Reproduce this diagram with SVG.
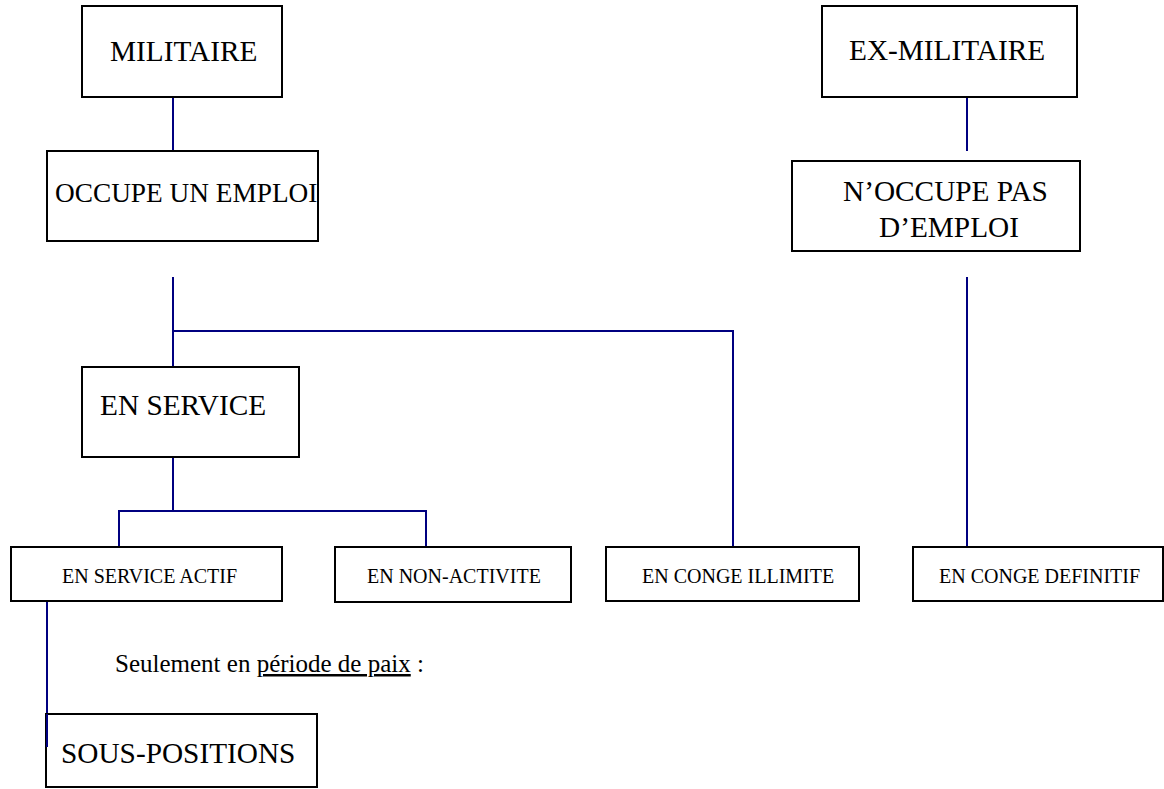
<svg xmlns="http://www.w3.org/2000/svg" width="1164" height="789" viewBox="0 0 1164 789">
<style>
.box{fill:#fff;stroke:#000;stroke-width:2}
.t{font-family:'Liberation Serif','Times New Roman','DejaVu Serif',serif;fill:#000}
.big{font-size:29.3px}
.sm{font-size:20px}
.con{fill:none;stroke:#000080;stroke-width:2}
</style>
<rect width="1164" height="789" fill="#fff"/>
<g id="connectors">
<path class="con" d="M173,97V151"/>
<path class="con" d="M173,277V367"/>
<path class="con" d="M173,331H733V547"/>
<path class="con" d="M173,457V511"/>
<path class="con" d="M119,547V511H426V547"/>
<path class="con" d="M967,97V151"/>
<path class="con" d="M967,277V547"/>
<path class="con" d="M47,601V747"/>
</g>
<g id="militaire"><rect class="box" x="82" y="6" width="200" height="91"/><text class="t big" font-family="Liberation Serif, serif" x="110" y="61">MILITAIRE</text></g>
<g id="ex-militaire"><rect class="box" x="822" y="6" width="255" height="91"/><text class="t big" x="849" y="60">EX-MILITAIRE</text></g>
<g id="occupe"><rect class="box" x="47" y="151" width="271" height="90"/><text class="t" style="font-size:27.3px" x="55" y="202">OCCUPE UN EMPLOI</text></g>
<g id="noccupe"><rect class="box" x="792" y="161" width="288" height="90"/><text class="t big" x="843" y="201">N’OCCUPE PAS</text><text class="t big" x="879" y="237">D’EMPLOI</text></g>
<g id="en-service"><rect class="box" x="82" y="367" width="217" height="90"/><text class="t big" x="100" y="415">EN SERVICE</text></g>
<g id="service-actif"><rect class="box" x="11" y="547" width="271" height="54"/><text class="t sm" x="62" y="583">EN SERVICE ACTIF</text></g>
<g id="non-activite"><rect class="box" x="335" y="547" width="236" height="55"/><text class="t sm" x="367" y="583">EN NON-ACTIVITE</text></g>
<g id="conge-illimite"><rect class="box" x="606" y="547" width="253" height="54"/><text class="t sm" x="642" y="583">EN CONGE ILLIMITE</text></g>
<g id="conge-definitif"><rect class="box" x="913" y="547" width="250" height="54"/><text class="t sm" x="939" y="583">EN CONGE DEFINITIF</text></g>
<g id="sous-positions"><rect class="box" x="46" y="714" width="271" height="73"/><path class="con" d="M47,714V747"/><text class="t big" x="61" y="763">SOUS-POSITIONS</text></g>
<text class="t" style="font-size:25px" x="115" y="672">Seulement en <tspan text-decoration="underline">période de paix</tspan> :</text>
</svg>
